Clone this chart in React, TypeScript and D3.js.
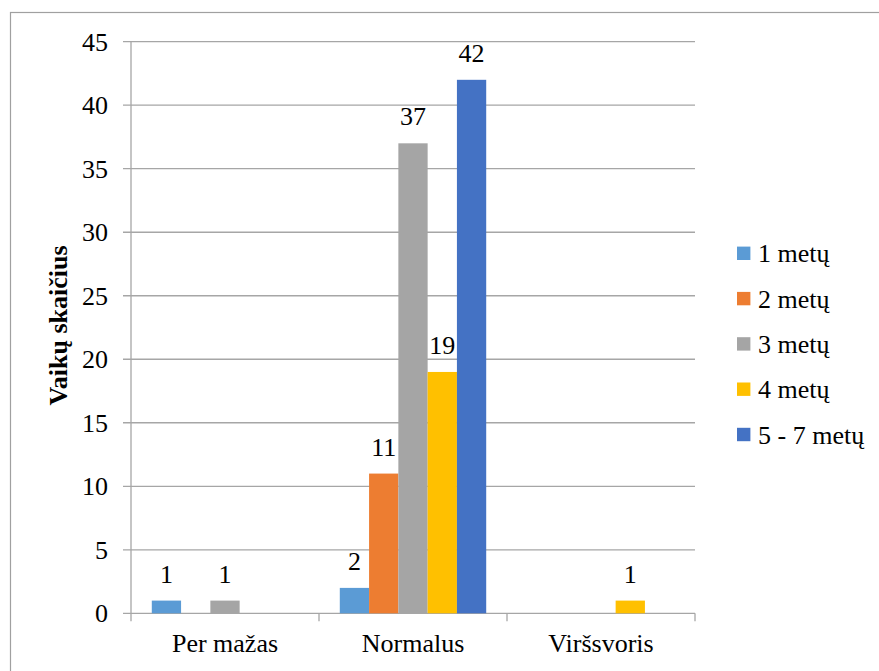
import { useEffect, useRef } from "react";
import * as d3 from "d3";

const categories = ["Per mažas", "Normalus", "Viršsvoris"];
const seriesNames = ["1 metų", "2 metų", "3 metų", "4 metų", "5 - 7 metų"];
const seriesColors = ["#5B9BD5", "#ED7D31", "#A5A5A5", "#FFC000", "#4472C4"];
// values[series][category]
const values = [
  [1, 2, 0],
  [0, 11, 0],
  [1, 37, 0],
  [0, 19, 1],
  [0, 42, 0],
];
const yTicks = [0, 5, 10, 15, 20, 25, 30, 35, 40, 45];

const FONT = '"Liberation Serif", Tinos, "Times New Roman", "DejaVu Serif", serif';

const App = () => {
  const svgRef = useRef<SVGSVGElement>(null);

  useEffect(() => {
    if (!svgRef.current) return;
    const svg = d3.select(svgRef.current);
    svg.selectAll("*").remove();

    const left = 131, right = 695, top = 41.7, bottom = 613.3;
    const grid = "#A6A6A6";

    svg.append("rect")
      .attr("x", 10.5).attr("y", 12.5)
      .attr("width", 900).attr("height", 700)
      .attr("fill", "white").attr("stroke", "#A0A0A0").attr("stroke-width", 1.2);

    const x0 = d3.scaleBand().domain(categories).range([left, right]).padding(0);
    const x1 = d3.scaleBand().domain(seriesNames).range([0, x0.bandwidth()])
      .paddingInner(0).paddingOuter(0.71);
    const y = d3.scaleLinear().domain([0, 45]).range([bottom, top]);

    // gridlines + y ticks
    svg.append("g").selectAll("line")
      .data(yTicks)
      .join("line")
      .attr("x1", left - 8).attr("x2", right)
      .attr("y1", d => y(d)).attr("y2", d => y(d))
      .attr("stroke", grid).attr("stroke-width", 1.3);

    svg.append("g").selectAll("text")
      .data(yTicks)
      .join("text")
      .attr("x", 108).attr("y", d => y(d))
      .attr("dy", "0.34em")
      .attr("text-anchor", "end")
      .style("font-family", FONT).style("font-size", "26px")
      .attr("fill", "#000")
      .text(d => d);

    // y axis line
    svg.append("line")
      .attr("x1", left).attr("x2", left)
      .attr("y1", top).attr("y2", bottom + 8)
      .attr("stroke", grid).attr("stroke-width", 1.3);

    // x ticks at band boundaries
    const bounds = categories.map(c => x0(c)!).concat([right]);
    svg.append("g").selectAll("line")
      .data(bounds.slice(1))
      .join("line")
      .attr("x1", d => d).attr("x2", d => d)
      .attr("y1", bottom).attr("y2", bottom + 8)
      .attr("stroke", grid).attr("stroke-width", 1.3);

    // bars
    const flat = seriesNames.flatMap((s, si) =>
      categories.map((c, ci) => ({ s, c, si, v: values[si][ci] }))
    );
    svg.append("g").selectAll("rect")
      .data(flat.filter(d => d.v > 0))
      .join("rect")
      .attr("x", d => x0(d.c)! + x1(d.s)!)
      .attr("y", d => y(d.v))
      .attr("width", x1.bandwidth())
      .attr("height", d => bottom - y(d.v))
      .attr("fill", d => seriesColors[d.si]);

    svg.append("g").selectAll("text")
      .data(flat.filter(d => d.v > 0))
      .join("text")
      .attr("x", d => x0(d.c)! + x1(d.s)! + x1.bandwidth() / 2)
      .attr("y", d => y(d.v) - 18)
      .attr("text-anchor", "middle")
      .style("font-family", FONT).style("font-size", "26px")
      .attr("fill", "#000")
      .text(d => d.v);

    // category labels
    svg.append("g").selectAll("text")
      .data(categories)
      .join("text")
      .attr("x", d => x0(d)! + x0.bandwidth() / 2)
      .attr("y", 652)
      .attr("text-anchor", "middle")
      .style("font-family", FONT).style("font-size", "26px")
      .attr("fill", "#000")
      .text(d => d);

    // y title
    svg.append("text")
      .attr("transform", "translate(67,325.5) rotate(-90)")
      .attr("text-anchor", "middle")
      .style("font-family", FONT).style("font-size", "26px").style("font-weight", "bold")
      .attr("fill", "#000")
      .text("Vaikų skaičius");

    // legend
    const lg = svg.append("g").selectAll("g")
      .data(seriesNames)
      .join("g")
      .attr("transform", (_, i) => `translate(737,${253.3 + i * 45.3})`);
    lg.append("rect")
      .attr("x", 0).attr("y", -6.7)
      .attr("width", 13.4).attr("height", 13.4)
      .attr("fill", (_, i) => seriesColors[i]);
    lg.append("text")
      .attr("x", 21).attr("y", 9)
      .style("font-family", FONT).style("font-size", "26px")
      .attr("fill", "#000")
      .text(d => d);
  }, []);

  return (
    <svg
      ref={svgRef}
      width={879}
      height={671}
      style={{ position: "absolute", left: 0, top: 0, background: "white" }}
    />
  );
};

export default App;
